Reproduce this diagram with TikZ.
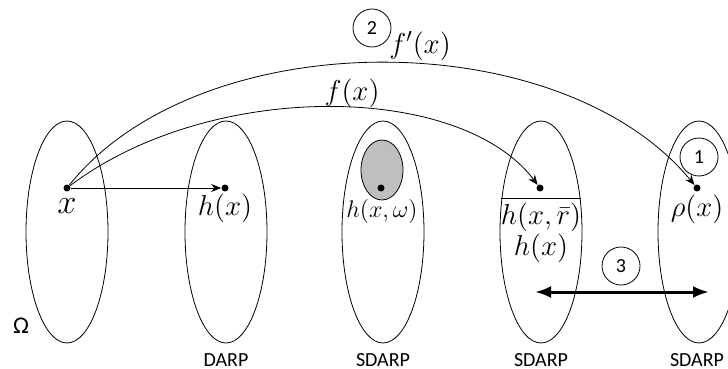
\documentclass[tikz,border=0pt]{standalone}
\usepackage{amsmath}
\usepackage{fontspec}
\setsansfont{Carlito}
\usetikzlibrary{positioning,arrows.meta,shapes.geometric}

\begin{document}
\begin{tikzpicture}[x=0.5pt,y=-0.5pt,
  set/.style={ellipse,draw=black,thin,minimum width=41pt,minimum height=111pt,inner sep=0pt,outer sep=0pt},
  blob/.style={ellipse,draw=black,thin,fill=black!25,minimum width=21pt,minimum height=30pt,inner sep=0pt},
  dot/.style={circle,fill=black,inner sep=0pt,minimum size=3.5pt},
  mlab/.style={inner sep=0pt,font=\fontsize{14}{16}\selectfont},
  slab/.style={inner sep=0pt,font=\sffamily\fontsize{10}{12}\selectfont},
  num/.style={circle,draw=black,thin,minimum size=19pt,inner sep=0pt,font=\sffamily\fontsize{10}{11}\selectfont},
  arr/.style={-{Stealth[length=5pt,width=4pt]},thin},
  dbl/.style={{Latex[length=8pt,width=6pt]}-{Latex[length=8pt,width=6pt]},line width=1.5pt}
]
\useasboundingbox (0,0) rectangle (728,369);
\node[set] (omega) at (67,232) {};
\node[set] (darp) at (226,232) {};
\node[set] (sdarpa) at (383,232) {};
\node[set] (sdarpb) at (541,232) {};
\node[set] (sdarpc) at (699,232) {};
\node[blob] (cloud) at (382,170) {};
\node[dot] (px) at (67,188) {};
\node[dot] (phx) at (225,188) {};
\node[dot] (phw) at (381,188) {};
\node[dot] (phr) at (540,188) {};
\node[dot] (prho) at (697,188) {};
\node[mlab,font=\fontsize{19}{20}\selectfont] (lx) at (67,206) {$x$};
\node[mlab] (lhx) at (225,208) {$h(x)$};
\node[mlab,font=\fontsize{13}{15}\selectfont] (lhw) at (382,211) {$h(x,\omega)$};
\node[mlab] (lhr) at (541,214) {$\overline{h(x,\bar{r})}$};
\node[mlab] (lhb) at (541,248) {$h(x)$};
\node[mlab] (lrho) at (697,209) {$\rho(x)$};
\node[mlab] (lf) at (352,93) {$f(x)$};
\node[mlab] (lfp) at (420,46) {$f'(x)$};
\node[num] (one) at (699,157) {1};
\node[num] (two) at (372,28) {2};
\node[num] (three) at (621,266) {3};
\node[slab,font=\sffamily\fontsize{12}{13}\selectfont] (lom) at (21,326) {Ω};
\node[slab] (ldarp) at (226,360) {DARP};
\node[slab] (lsa) at (383,360) {SDARP};
\node[slab] (lsb) at (541,360) {SDARP};
\node[slab] (lsc) at (697,360) {SDARP};
\coordinate (dl) at (535,292);
\coordinate (dr) at (709,292);
\draw[arr] (px) -- (phx);
\draw[arr] (px) .. controls (210,80) and (460,82) .. (phr);
\draw[arr] (px) .. controls (200,22) and (560,22) .. (prho);
\draw[dbl] (dl) -- (dr);
\end{tikzpicture}
\end{document}
